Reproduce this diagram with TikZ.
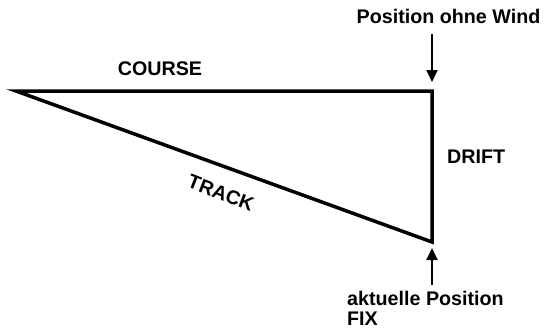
\documentclass[tikz,border=0pt]{standalone}
\usepackage{fontspec}
\setmainfont{Liberation Sans}
\usetikzlibrary{arrows.meta}
\begin{document}
\begin{tikzpicture}[x=1pt,y=-1pt,
  leg/.style={line width=3.5pt,line join=miter},
  pointer/.style={line width=2pt,-{Triangle[length=12pt,width=11pt]}},
  lbl/.style={font=\bfseries\fontsize{19.7}{21}\selectfont,inner sep=0pt}]
\useasboundingbox (0,0) rectangle (558,332);
\coordinate (A) at (16,91);
\coordinate (B) at (432,91);
\coordinate (C) at (432,242);
\draw[leg] (A) -- (B) -- (C) -- cycle;
\node[lbl] (course) at (160,68.5) {COURSE};
\node[lbl,anchor=west] (drift) at (447,156.5) {DRIFT};
\node[lbl,rotate=-21] (track) at (221,193) {TRACK};
\node[lbl] (pow) at (448.5,16) {Position ohne Wind};
\node[lbl,anchor=west] (akt) at (347,298) {aktuelle Position};
\node[lbl,anchor=west] (fix) at (347,319) {FIX};
\coordinate (t1) at (432,34);
\coordinate (t2) at (432,82);
\coordinate (b1) at (432,285);
\coordinate (b2) at (432,248);
\draw[pointer] (t1) -- (t2);
\draw[pointer] (b1) -- (b2);
\end{tikzpicture}
\end{document}
